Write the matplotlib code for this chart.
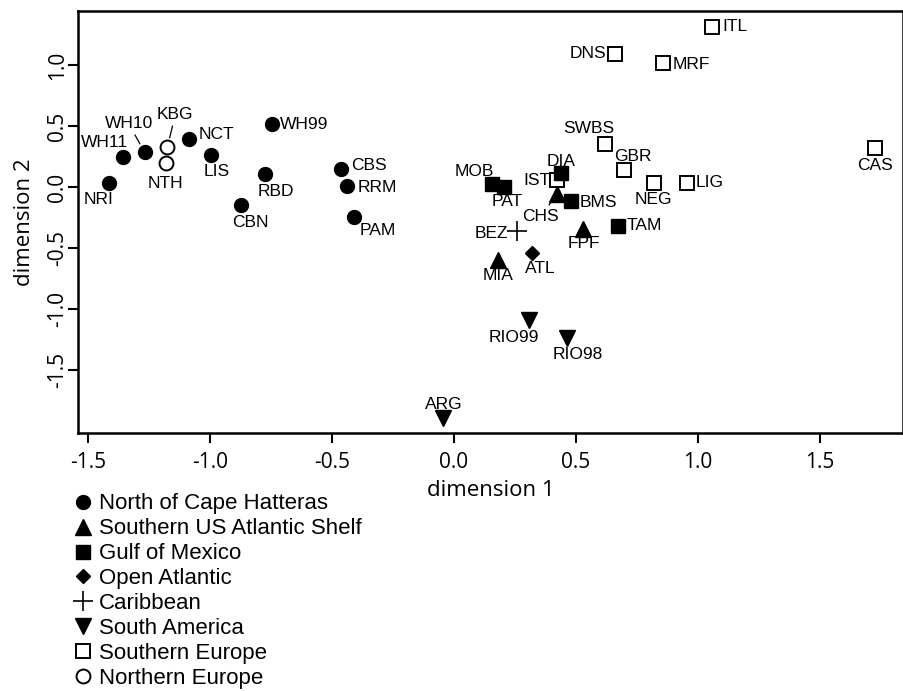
import matplotlib
matplotlib.use("Agg")
import matplotlib.pyplot as plt
from matplotlib.lines import Line2D

# site codes, MDS coordinates and region group
sites = ["NRI", "WH11", "WH10", "KBG", "NTH", "NCT", "LIS", "CBN", "RBD", "WH99",
         "CBS", "RRM", "PAM", "ITL", "DNS", "MRF", "SWBS", "GBR", "CAS", "LIG",
         "NEG", "IST", "DIA", "MOB", "PAT", "CHS", "BMS", "TAM", "FPF", "BEZ",
         "MIA", "ATL", "RIO99", "RIO98", "ARG"]
dim1 = [-1.412, -1.358, -1.268, -1.175, -1.182, -1.087, -0.997, -0.874, -0.775, -0.747,
        -0.462, -0.437, -0.409, 1.056, 0.660, 0.858, 0.617, 0.698, 1.725, 0.954,
        0.818, 0.421, 0.439, 0.154, 0.206, 0.421, 0.480, 0.674, 0.530, 0.257,
        0.180, 0.318, 0.309, 0.462, -0.046]
dim2 = [0.035, 0.246, 0.284, 0.325, 0.194, 0.396, 0.262, -0.148, 0.107, 0.514,
        0.148, 0.008, -0.246, 1.314, 1.088, 1.014, 0.352, 0.137, 0.317, 0.035,
        0.035, 0.057, 0.112, 0.025, 0.003, -0.060, -0.115, -0.317, -0.347, -0.361,
        -0.598, -0.538, -1.090, -1.235, -1.896]
region = ["NCH", "NCH", "NCH", "NEU", "NEU", "NCH", "NCH", "NCH", "NCH", "NCH",
          "NCH", "NCH", "NCH", "SEU", "SEU", "SEU", "SEU", "SEU", "SEU", "SEU",
          "SEU", "SEU", "GOM", "GOM", "GOM", "SAS", "GOM", "GOM", "SAS", "CAR",
          "SAS", "OAT", "SAM", "SAM", "SAM"]

region_order = ["NCH", "SAS", "GOM", "OAT", "CAR", "SAM", "SEU", "NEU"]
region_names = ["North of Cape Hatteras", "Southern US Atlantic Shelf", "Gulf of Mexico",
                "Open Atlantic", "Caribbean", "South America", "Southern Europe",
                "Northern Europe"]

# marker style per region
styles = {
    "NCH": dict(marker="o", ms=10, mfc="black", mec="black"),
    "SAS": dict(marker="^", ms=11, mfc="black", mec="black"),
    "GOM": dict(marker="s", ms=9.5, mfc="black", mec="black"),
    "OAT": dict(marker="D", ms=7.2, mfc="black", mec="black"),
    "CAR": dict(marker="+", ms=15, mfc="black", mec="black", mew=1.2),
    "SAM": dict(marker="v", ms=11.5, mfc="black", mec="black"),
    "SEU": dict(marker="s", ms=9.5, mfc="white", mec="black", mew=1.4),
    "NEU": dict(marker="o", ms=10, mfc="white", mec="black", mew=1.4),
}

# label offsets in pixels (dx right, dy down) from each point, and leader lines
offsets = {
    "NRI": (-11, 17), "WH11": (-18, -15), "WH10": (-16, -29), "KBG": (8, -33),
    "NTH": (0, 20), "NCT": (28, -4), "LIS": (6, 16), "CBN": (10, 17), "RBD": (11, 18),
    "WH99": (32, 0), "CBS": (28, -3), "RRM": (30, 1), "PAM": (24, 13),
    "ITL": (23, 0), "DNS": (-27, -1), "MRF": (28, 1), "SWBS": (-16, -16),
    "GBR": (9, -14), "CAS": (0, 17), "LIG": (23, 0), "NEG": (0, 17), "IST": (-20, 0),
    "DIA": (0, -12), "MOB": (-17, -12), "PAT": (3, 15), "CHS": (-16, 22),
    "BMS": (27, 1), "TAM": (26, 0), "FPF": (1, 14), "BEZ": (-25, 2), "MIA": (0, 15),
    "ATL": (9, 16), "RIO99": (-16, 17), "RIO98": (11, 17), "ARG": (1, -14),
}
leaders = {"WH10", "KBG", "CHS"}

fig = plt.figure(figsize=(9.04, 6.91), dpi=100)
ax = fig.add_axes([78 / 904, 1 - 433 / 691, 825 / 904, 422 / 691])

for i, s in enumerate(sites):
    ax.plot(dim1[i], dim2[i], ls="none", zorder=3, **styles[region[i]])
    dx, dy = offsets[s]
    kw = {}
    if s in leaders:
        kw["arrowprops"] = dict(arrowstyle="-", color="black", lw=0.9,
                                shrinkA=1, shrinkB=7)
    ax.annotate(s, (dim1[i], dim2[i]), xytext=(dx, -dy), textcoords="offset pixels",
                ha="center", va="center", fontsize=12.5, family="Liberation Sans", **kw)

ax.set_xlim(-1.541, 1.840)
ax.set_ylim(-2.016, 1.443)
ax.set_xticks([-1.5, -1.0, -0.5, 0.0, 0.5, 1.0, 1.5])
ax.set_yticks([-1.5, -1.0, -0.5, 0.0, 0.5, 1.0])
tick_font = ["Liberation Sans Narrow", "Open Sans"]
ax.set_xticklabels([f"{t:.1f}" for t in ax.get_xticks()], family=tick_font, fontsize=15)
ax.set_yticklabels([f"{t:.1f}" for t in ax.get_yticks()], family=tick_font, fontsize=15,
                   rotation=90, va="center")
ax.tick_params(direction="out", length=7, width=1.5)
ax.tick_params(axis="x", pad=6.5)
ax.tick_params(axis="y", pad=0)
for sp in ax.spines.values():
    sp.set_linewidth(1.8)
ax.set_xlabel("dimension 1", family=tick_font, fontsize=16, labelpad=5.5)
ax.set_ylabel("dimension 2", family=tick_font, fontsize=16, labelpad=9)

handles = []
for r in region_order:
    st = dict(styles[r])
    handles.append(Line2D([], [], ls="none", **st))
fig.legend(handles, region_names, loc="upper left", bbox_to_anchor=(72 / 904, 1 - 493.5 / 691),
           frameon=False, handlelength=1.0, handletextpad=0.2, labelspacing=0.175,
           borderpad=0, borderaxespad=0, prop=dict(family="Liberation Sans", size=16))

fig.savefig("out.png", dpi=100)
